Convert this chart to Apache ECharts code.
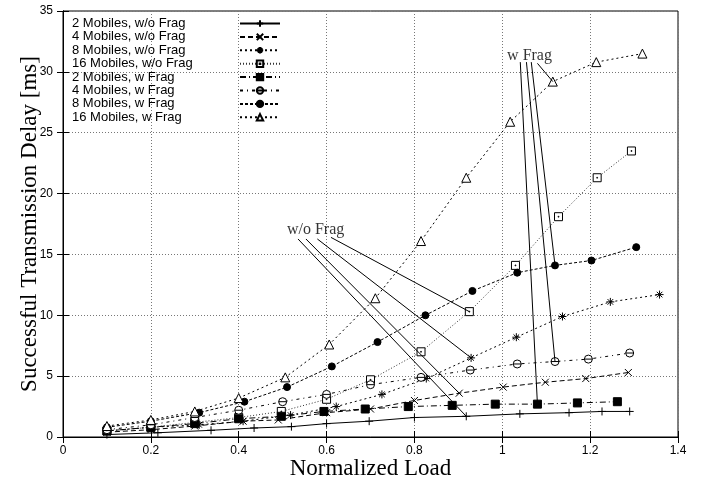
<!DOCTYPE html>
<html>
<head>
<meta charset="utf-8">
<script src="https://cdn.jsdelivr.net/npm/echarts@6/dist/echarts.min.js"></script>
<style>html,body{margin:0;padding:0;background:#fff}#c{width:711px;height:482px}</style>
</head>
<body>
<div id="c"></div>
<script>
// Series names
const seriesNames = ['2 Mobiles, w/o Frag','4 Mobiles, w/o Frag','8 Mobiles, w/o Frag','16 Mobiles, w/o Frag',
  '2 Mobiles, w Frag','4 Mobiles, w Frag','8 Mobiles, w Frag','16 Mobiles, w Frag'];

// Normalized load (x) and delay in ms (y) per series
const m2woX = [0.1, 0.216, 0.337, 0.435, 0.52, 0.6, 0.697, 0.8, 0.918, 1.04, 1.152, 1.227, 1.29];
const m2woY = [0.2, 0.35, 0.55, 0.74, 0.85, 1.1, 1.3, 1.6, 1.7, 1.9, 2.0, 2.1, 2.1];
const m4woX = [0.1, 0.2, 0.3, 0.41, 0.49, 0.6, 0.7, 0.8, 0.902, 1.002, 1.098, 1.19, 1.287];
const m4woY = [0.4, 0.6, 0.9, 1.3, 1.4, 2.0, 2.3, 3.0, 3.6, 4.1, 4.5, 4.8, 5.3];
const m8woX = [0.1, 0.2, 0.31, 0.41, 0.518, 0.622, 0.726, 0.827, 0.929, 1.032, 1.137, 1.246, 1.358];
const m8woY = [0.5, 0.8, 1.0, 1.3, 1.8, 2.5, 3.5, 4.8, 6.5, 8.2, 9.9, 11.1, 11.7];
const m16woX = [0.1, 0.2, 0.3, 0.4, 0.497, 0.6, 0.7, 0.815, 0.925, 1.03, 1.128, 1.216, 1.294];
const m16woY = [0.5, 0.8, 1.2, 1.6, 2.1, 3.1, 4.7, 7.0, 10.3, 14.1, 18.1, 21.3, 23.5];
const m2wX = [0.1, 0.2, 0.3, 0.4, 0.497, 0.594, 0.688, 0.786, 0.886, 0.984, 1.08, 1.171, 1.262];
const m2wY = [0.5, 0.8, 1.1, 1.5, 1.7, 2.1, 2.3, 2.5, 2.6, 2.7, 2.7, 2.8, 2.9];
const m4wX = [0.1, 0.2, 0.3, 0.4, 0.5, 0.6, 0.7, 0.815, 0.927, 1.034, 1.12, 1.196, 1.29];
const m4wY = [0.6, 1.0, 1.6, 2.2, 2.9, 3.5, 4.3, 4.9, 5.5, 6.0, 6.2, 6.4, 6.9];
const m8wX = [0.1, 0.2, 0.31, 0.413, 0.51, 0.612, 0.716, 0.825, 0.932, 1.034, 1.12, 1.203, 1.305];
const m8wY = [0.8, 1.3, 2.0, 2.9, 4.1, 5.8, 7.8, 10.0, 12.0, 13.5, 14.1, 14.5, 15.6];
const m16wX = [0.1, 0.2, 0.3, 0.4, 0.506, 0.606, 0.711, 0.815, 0.918, 1.018, 1.115, 1.214, 1.319];
const m16wY = [0.9, 1.4, 2.1, 3.2, 4.9, 7.6, 11.4, 16.1, 21.3, 25.9, 29.2, 30.8, 31.5];

// Axis ticks
const xTicks = [0, 0.2, 0.4, 0.6, 0.8, 1, 1.2, 1.4];
const yTicks = [0, 5, 10, 15, 20, 25, 30, 35];

// Annotations: label text, label anchor (data units), line start points, index of target point
const annoText = ['w/o Frag', 'w Frag'];
const annoPos = [[0.575, 17.05], [1.062, 31.35]];
const annoWoStarts = [[0.535, 16.27], [0.553, 16.27], [0.579, 16.27], [0.61, 16.4]];
const annoWStarts = [[1.041, 30.8], [1.055, 30.8], [1.066, 30.8], [1.080, 30.7]];
const annoTargetIdx = [8, 10];

const xs = [m2woX, m4woX, m8woX, m16woX, m2wX, m4wX, m8wX, m16wX];
const ys = [m2woY, m4woY, m8woY, m16woY, m2wY, m4wY, m8wY, m16wY];
const pairs = xs.map((xa, i) => xa.map((x, j) => [x, ys[i][j]]));

const plusP = 'path://M5,0L5,10M0,5L10,5';
const crossP = 'path://M0,0L10,10M0,10L10,0';
const starP = 'path://M5,0L5,10M0,5L10,5M1.5,1.5L8.5,8.5M1.5,8.5L8.5,1.5';
const dotSqP = 'path://M0,0L10,0L10,10L0,10Z M4.5,4.5L5.5,4.5L5.5,5.5L4.5,5.5Z';
const barCircP = 'path://M0,5A5,5,0,1,1,10,5A5,5,0,1,1,0,5Z M0,5L10,5';
const triP = 'path://M5,0L10,9L0,9Z';
const styles = [
  {symbol: plusP, size: 8, dash: 'solid', fill: '#000'},
  {symbol: crossP, size: 7, dash: [5, 3], fill: '#000'},
  {symbol: starP, size: 8, dash: [2, 3], fill: '#000'},
  {symbol: dotSqP, size: 8, dash: [1, 2], color: '#333', fill: '#fff'},
  {symbol: 'rect', size: 8, dash: [6, 3, 1, 3], fill: '#000'},
  {symbol: barCircP, size: 8, dash: [3, 4, 1, 4], fill: '#fff'},
  {symbol: 'circle', size: 7, dash: [3, 2], fill: '#000'},
  {symbol: triP, size: 9, dash: [2, 3], fill: '#fff'}
];

const series = seriesNames.map((name, i) => {
  const s = styles[i];
  const col = s.color || '#000';
  return {
    name: name, type: 'line', data: pairs[i],
    symbol: s.symbol, symbolSize: s.size, showSymbol: true, showAllSymbol: true,
    lineStyle: {color: col, width: 1, type: s.dash},
    itemStyle: {color: s.fill, borderColor: '#000', borderWidth: 1},
    emphasis: {disabled: true}, animation: false, z: 3
  };
});

const woLines = annoWoStarts.map((p, k) => ({coords: [p, pairs[k][annoTargetIdx[0]]]}));
const wLines = annoWStarts.map((p, k) => ({coords: [p, pairs[4 + k][annoTargetIdx[1]]]}));
series.push({
  type: 'lines', coordinateSystem: 'cartesian2d', silent: true, animation: false, z: 4,
  lineStyle: {color: '#000', width: 1, type: 'solid', opacity: 1, curveness: 0},
  data: woLines.concat(wLines)
});
series.push({
  type: 'scatter', silent: true, animation: false, symbol: 'circle', symbolSize: 1,
  itemStyle: {color: 'rgba(0,0,0,0)'},
  label: {show: true, position: 'inside', formatter: p => annoText[p.dataIndex],
    fontFamily: 'Liberation Serif', fontSize: 16, color: '#000'},
  data: annoPos
});

const axisCommon = {
  axisLine: {show: true, lineStyle: {color: '#000', width: 1}},
  axisTick: {show: true, inside: true, length: 6, lineStyle: {color: '#000'}},
  splitLine: {show: false}
};

const option = {
  backgroundColor: '#fff',
  animation: false,
  grid: {left: 63, right: 33, top: 11, bottom: 45, show: true, borderColor: '#000', borderWidth: 1,
    containLabel: false, outerBoundsMode: 'none'},
  legend: {
    data: seriesNames, orient: 'vertical', left: 72, top: 17, padding: 0, itemGap: 0.4,
    align: 'right', itemWidth: 40, itemHeight: 8, selectedMode: false,
    formatter: '{a|{name}}',
    textStyle: {rich: {a: {width: 163, align: 'left', fontFamily: 'Liberation Sans', fontSize: 13, lineHeight: 13, color: '#000'}}}
  },
  xAxis: [
    Object.assign({}, axisCommon, {
      type: 'value', min: xTicks[0], max: xTicks[xTicks.length - 1], interval: 0.2,
      name: 'Normalized Load', nameLocation: 'middle', nameGap: 20, nameMoveOverlap: false,
      nameTextStyle: {fontFamily: 'Liberation Serif', fontSize: 23, color: '#000'},
      axisLabel: {margin: 8, fontFamily: 'Liberation Sans', fontSize: 12, color: '#000',
        formatter: v => String(+v.toFixed(1))},
      splitLine: {show: true, lineStyle: {color: '#777', width: 1, type: [1, 2]}}
    }),
    Object.assign({}, axisCommon, {
      type: 'value', position: 'top', min: 0, max: 1.4, interval: 0.2, axisLabel: {show: false}
    })
  ],
  yAxis: [
    Object.assign({}, axisCommon, {
      type: 'value', min: yTicks[0], max: yTicks[yTicks.length - 1], interval: 5,
      name: 'Successful Transmission Delay [ms]', nameLocation: 'middle', nameGap: 22, nameMoveOverlap: false,
      nameTextStyle: {fontFamily: 'Liberation Serif', fontSize: 23, color: '#000'},
      axisLabel: {margin: 10, fontFamily: 'Liberation Sans', fontSize: 12, color: '#000'},
      splitLine: {show: true, lineStyle: {color: '#777', width: 1, type: [1, 2]}}
    }),
    Object.assign({}, axisCommon, {
      type: 'value', position: 'right', min: 0, max: 35, interval: 5, axisLabel: {show: false}
    })
  ],
  series: series
};

const chart = echarts.init(document.getElementById('c'), null, {renderer: 'canvas'});
chart.setOption(option);
</script>
</body>
</html>
